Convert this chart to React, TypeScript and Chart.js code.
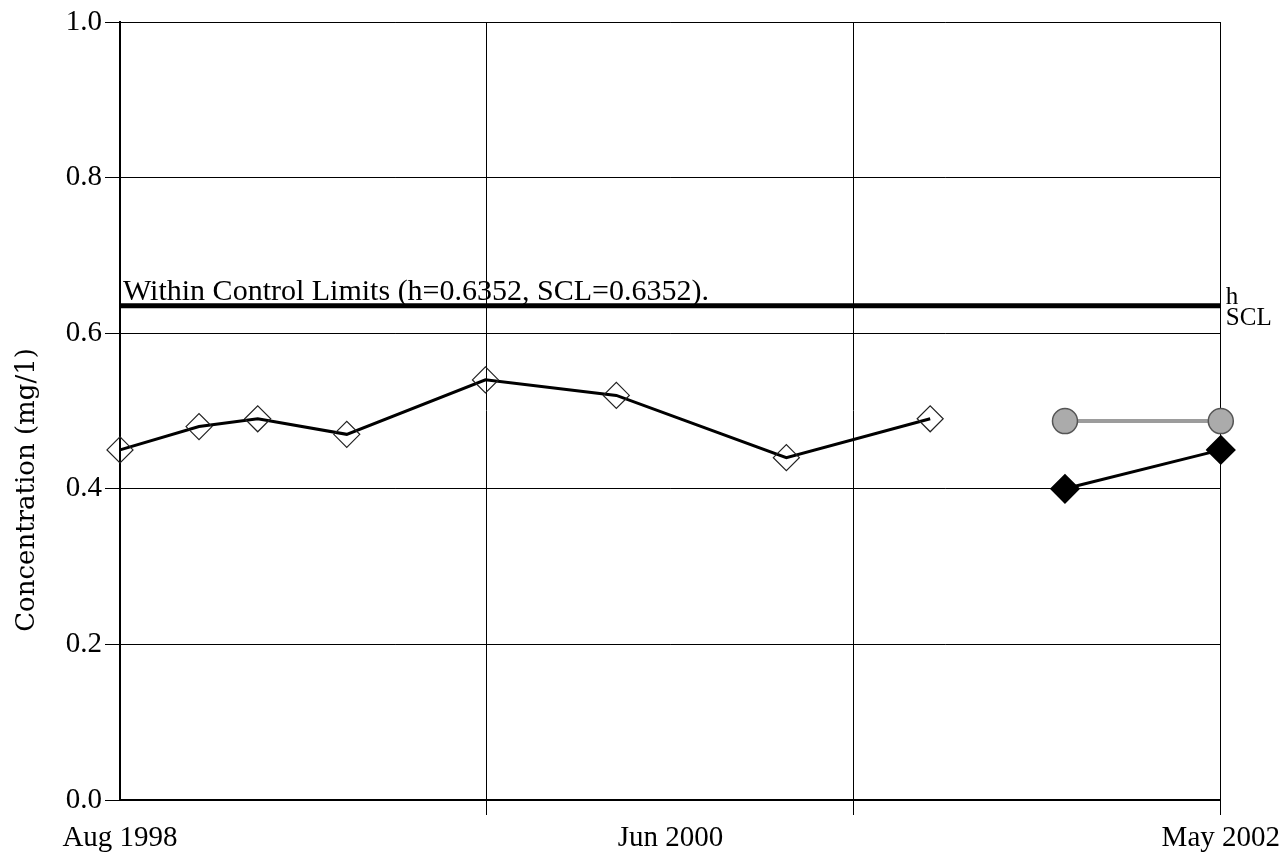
import React, { useEffect, useRef } from "react";
import { Chart, registerables } from "chart.js";

Chart.register(...registerables);

// months since Aug 1998
const baselineX = [0, 3.23, 5.63, 9.27, 14.94, 20.29, 27.24, 33.12];
const baselineY = [0.45, 0.48, 0.49, 0.47, 0.54, 0.52, 0.44, 0.49];
const greyX = [38.63, 45];
const greyY = [0.487, 0.487];
const blackX = [38.63, 45];
const blackY = [0.4, 0.45];
const hValue = 0.6352;
const hRangeX = [0, 45];
const xGridTicks = [0, 15, 30, 45];
const xLabelTicks = [0, 22.5, 45];
const xLabels = ["Aug 1998", "Jun 2000", "May 2002"];
const yTicks = [0, 0.2, 0.4, 0.6, 0.8, 1.0];
const annotationText = "Within Control Limits (h=0.6352, SCL=0.6352).";
const yTitle = "Concentration (mg/1)";

const SERIF = "'Liberation Serif', 'Times New Roman', serif";

const textPlugin = {
  id: "texts",
  afterDraw(chart: any) {
    const ctx = chart.ctx;
    const xs = chart.scales.x;
    const ys = chart.scales.y;
    const yh = ys.getPixelForValue(hValue);
    ctx.save();
    ctx.fillStyle = "#000";
    ctx.font = `30px ${SERIF}`;
    ctx.textAlign = "left";
    ctx.textBaseline = "alphabetic";
    ctx.fillText(annotationText, xs.getPixelForValue(0) + 3, yh - 6);
    ctx.font = `25px ${SERIF}`;
    ctx.textBaseline = "middle";
    const xr = xs.getPixelForValue(45) + 5;
    ctx.fillText("h", xr, yh - 8);
    ctx.fillText("SCL", xr, yh + 13);
    ctx.translate(27, 490);
    ctx.rotate(-Math.PI / 2);
    ctx.textAlign = "center";
    ctx.font = `26px 'DejaVu Serif', serif`;
    ctx.fillText(yTitle, 0, 0);
    ctx.restore();
  },
};

export default function App() {
  const ref = useRef<HTMLCanvasElement>(null);
  useEffect(() => {
    if (!ref.current) return;
    const chart = new Chart(ref.current, {
      type: "line",
      data: {
        datasets: [
          {
            data: blackX.map((x, i) => ({ x, y: blackY[i] })),
            borderColor: "#000",
            borderWidth: 3,
            pointStyle: "rectRot",
            pointRadius: 13,
            pointBackgroundColor: "#000",
            pointBorderColor: "#000",
            tension: 0,
            clip: false,
          },
          {
            data: greyX.map((x, i) => ({ x, y: greyY[i] })),
            borderColor: "#9c9c9c",
            borderWidth: 4,
            pointStyle: "circle",
            pointRadius: 12.5,
            pointBackgroundColor: "#ababab",
            pointBorderColor: "#555",
            pointBorderWidth: 1.5,
            tension: 0,
            clip: false,
          },
          {
            data: baselineX.map((x, i) => ({ x, y: baselineY[i] })),
            borderColor: "#000",
            borderWidth: 3,
            pointStyle: "rectRot",
            pointRadius: 13,
            pointBackgroundColor: "rgba(0,0,0,0)",
            pointBorderColor: "#222",
            pointBorderWidth: 1.2,
            tension: 0,
            clip: false,
          },
          {
            data: hRangeX.map((x) => ({ x, y: hValue })),
            borderColor: "#000",
            borderWidth: 5,
            pointRadius: 0,
            tension: 0,
          },
        ],
      },
      options: {
        animation: false,
        responsive: false,
        events: [],
        layout: { padding: { top: 22, right: 63, bottom: 0, left: 0 } },
        plugins: { legend: { display: false }, tooltip: { enabled: false } },
        scales: {
          x: {
            type: "linear",
            min: 0,
            max: 45,
            position: "bottom",
            afterBuildTicks: (axis: any) => {
              axis.ticks = xGridTicks.map((v) => ({ value: v }));
            },
            afterFit: (axis: any) => {
              axis.height = 16;
            },
            grid: {
              color: "#000",
              lineWidth: 1,
              tickLength: 15,
              drawTicks: true,
              tickColor: (c: any) => (c.index === 0 ? "rgba(0,0,0,0)" : "#000"),
            },
            border: { color: "#000", width: 2 },
            ticks: { display: false },
          },
          xl: {
            type: "linear",
            min: 0,
            max: 45,
            position: "bottom",
            afterBuildTicks: (axis: any) => {
              axis.ticks = xLabelTicks.map((v) => ({ value: v }));
            },
            afterFit: (axis: any) => {
              axis.height = 44;
            },
            grid: { display: false, drawTicks: false },
            border: { display: false },
            ticks: {
              autoSkip: false,
              maxRotation: 0,
              padding: 5,
              color: "#000",
              font: { family: SERIF, size: 29 },
              callback: (_v: any, i: number) => xLabels[i],
            },
          },
          y: {
            type: "linear",
            min: 0,
            max: 1,
            afterBuildTicks: (axis: any) => {
              axis.ticks = yTicks.map((v) => ({ value: v }));
            },
            afterFit: (axis: any) => {
              axis.width = 120;
            },
            grid: { color: "#000", lineWidth: 1, tickLength: 15 },
            border: { color: "#000", width: 2 },
            ticks: {
              padding: 3,
              color: "#000",
              font: { family: SERIF, size: 29 },
              callback: (v: any) => Number(v).toFixed(1),
            },
          },
        },
      },
      plugins: [textPlugin],
    } as any);
    return () => chart.destroy();
  }, []);
  return (
    <div style={{ position: "absolute", left: 0, top: 0, width: 1285, height: 860, background: "#fff" }}>
      <canvas ref={ref} width={1285} height={860} />
    </div>
  );
}
